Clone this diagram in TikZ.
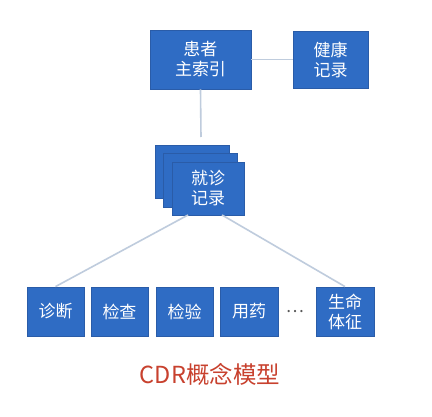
\documentclass[tikz,border=0pt]{standalone}
\usepackage{fontspec}
\newfontfamily\cjk{Noto Sans CJK SC}
\definecolor{boxblue}{HTML}{2F6CC4}
\definecolor{boxedge}{HTML}{2A5CA8}
\definecolor{linegray}{HTML}{BFCCDD}
\definecolor{titlered}{HTML}{C8412E}
\begin{document}
\begin{tikzpicture}[x=1pt,y=-1pt,
  bluebox/.style={draw=boxedge,line width=0.8pt,fill=boxblue,text=white,font=\cjk\fontsize{17}{20}\selectfont,align=center,inner sep=0pt},
  conn/.style={draw=linegray,line width=1.6pt}]
\useasboundingbox[fill=white] (0,0) rectangle (432,417);
% top row
\node[bluebox,minimum width=101pt,minimum height=59pt] (pmi) at (200.5,59.5) {患者\\主索引};
\node[bluebox,minimum width=75pt,minimum height=57pt] (hr) at (330.5,59.5) {健康\\记录};
% stacked encounter records
\node[bluebox,minimum width=74pt,minimum height=53pt] (s1) at (192,171.5) {};
\node[bluebox,minimum width=74pt,minimum height=54pt] (s2) at (200,180) {};
\node[bluebox,minimum width=72pt,minimum height=53pt] (enc) at (208,188.5) {就诊\\记录};
\coordinate (encL) at (188,215);
\coordinate (encR) at (222,215);
\coordinate (stackTop) at (201,137);
% bottom row
\node[bluebox,minimum width=57pt,minimum height=49pt] (d1) at (55.5,311.5) {诊断};
\node[bluebox,minimum width=57pt,minimum height=49pt] (d2) at (119.5,311.5) {检查};
\node[bluebox,minimum width=57pt,minimum height=49pt] (d3) at (184.5,311.5) {检验};
\node[bluebox,minimum width=58pt,minimum height=49pt] (d4) at (249,311.5) {用药};
\node[font=\cjk\fontsize{17}{20}\selectfont,text=black!65] (dots) at (295,312) {…};
\node[bluebox,minimum width=58pt,minimum height=49pt] (d5) at (345,311.5) {生命\\体征};
% title
\node[font=\cjk\fontsize{23.5}{26}\selectfont,text=titlered] (title) at (210,374.5) {CDR概念模型};
% connectors
\draw[conn] (pmi.east) -- (hr.west);
\draw[conn] (pmi.south) -- (stackTop);
\draw[conn] (encL) -- (d1.north);
\draw[conn] (encR) -- (d5.north);
\end{tikzpicture}
\end{document}
